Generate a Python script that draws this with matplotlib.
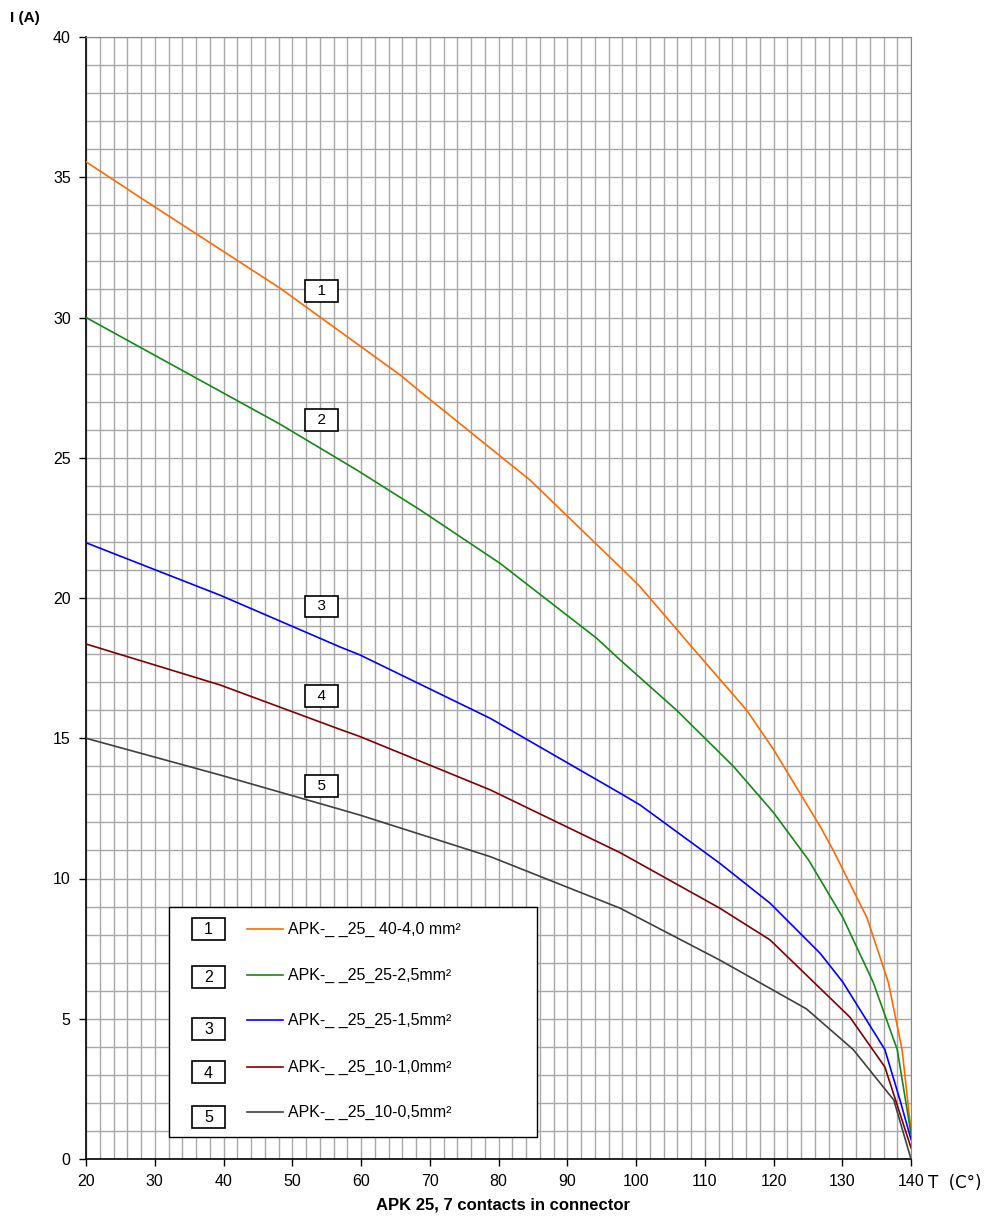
import matplotlib
matplotlib.use("Agg")
import matplotlib.pyplot as plt
from matplotlib.patches import Rectangle
from matplotlib.lines import Line2D
import numpy as np

plt.rcParams['font.family'] = ['Liberation Sans', 'DejaVu Sans']

# values (T in C, I in A)
t1 = [20, 28, 48.2, 65.7, 68.6, 84.6, 97.7, 100.6, 108.1, 116.1, 120, 126.8, 128.7, 133.6, 136.7, 138.7, 140]
i1 = [35.55, 34.26, 31.05, 27.95, 27.36, 24.2, 21.1, 20.4, 18.26, 16.0, 14.6, 11.85, 11.0, 8.6, 6.3, 3.9, 1.0]

t2 = [20, 48.2, 59.4, 68.6, 80.2, 94.3, 97.7, 105.9, 114.2, 120, 125.1, 130.1, 134.5, 138, 140]
i2 = [30.0, 26.2, 24.56, 23.14, 21.24, 18.56, 17.79, 16.0, 13.99, 12.35, 10.66, 8.6, 6.3, 3.9, 0.9]

t3 = [20, 39.5, 56.9, 59.85, 78.8, 97.7, 100.6, 112.2, 119.5, 126.8, 130.1, 136.2, 138.4, 140]
i3 = [21.97, 20.1, 18.26, 17.97, 15.71, 13.04, 12.62, 10.54, 9.12, 7.33, 6.3, 3.9, 2.1, 0.7]

t4 = [20, 39.5, 56.9, 59.85, 78.8, 97.7, 112.2, 119.5, 126.8, 131.1, 136.2, 140]
i4 = [18.36, 16.9, 15.32, 15.06, 13.16, 10.92, 8.94, 7.81, 6.08, 5.06, 3.28, 0.4]

t5 = [20, 39.5, 56.9, 59.85, 78.8, 97.7, 112.2, 124.8, 131.6, 137.5, 140]
i5 = [15.0, 13.69, 12.47, 12.26, 10.78, 8.94, 7.09, 5.35, 3.9, 2.1, 0.0]

names = ["APK-_ _25_ 40-4,0 mm\u00b2", "APK-_ _25_25-2,5mm\u00b2", "APK-_ _25_25-1,5mm\u00b2",
         "APK-_ _25_10-1,0mm\u00b2", "APK-_ _25_10-0,5mm\u00b2"]
colours = ["#ff6a00", "#138a13", "#0000ff", "#800000", "#404040"]
label_pos = [(54.3, 30.94), (54.3, 26.35), (54.3, 19.7), (54.3, 16.5), (54.3, 13.3)]

W, H = 989, 1223
fig = plt.figure(figsize=(W / 100, H / 100), dpi=100)

def px(x, y):
    return x / W, 1 - y / H

l, b = px(86, 1159)
r, t = px(911, 37)
ax = fig.add_axes([l, b, r - l, t - b])

for tt, ii, c in zip([t1, t2, t3, t4, t5], [i1, i2, i3, i4, i5], colours):
    ax.plot(tt, ii, color=c, lw=1.2, zorder=3)

ax.set_xlim(20, 140)
ax.set_ylim(0, 40)
ax.set_xticks(np.arange(20, 141, 10))
ax.set_yticks(np.arange(0, 41, 5))
ax.set_xticks(np.arange(20, 141, 2), minor=True)
ax.set_yticks(np.arange(0, 41, 1), minor=True)
ax.grid(which='both', color='#a8a8a8', lw=1, zorder=0)
ax.tick_params(which='minor', length=0)
ax.tick_params(which='major', direction='out', length=5, width=1, labelsize=11.5, pad=6)

for s in ['top', 'right']:
    ax.spines[s].set_color('#888888')
for s in ['left', 'bottom']:
    ax.spines[s].set_color('black')
    ax.spines[s].set_linewidth(1.2)

# numbered boxes on the curves
for k, (x, y) in enumerate(label_pos):
    ax.text(x, y, "  %d  " % (k + 1), ha='center', va='center', fontsize=11,
            bbox=dict(boxstyle='square,pad=0.25', fc='white', ec='black', lw=1.2), zorder=5)

# legend block
lx0, ly0 = px(169, 1137)
lx1, ly1 = px(537, 907)
fig.patches.append(Rectangle((lx0, ly0), lx1 - lx0, ly1 - ly0, transform=fig.transFigure,
                             fc='white', ec='black', lw=1, zorder=10))
box_y = [929, 977, 1029, 1072, 1117]
line_y = [929, 975, 1020, 1067, 1112]
for k in range(5):
    bx0, by0 = px(192, box_y[k] + 11)
    bx1, by1 = px(225, box_y[k] - 11)
    fig.patches.append(Rectangle((bx0, by0), bx1 - bx0, by1 - by0, transform=fig.transFigure,
                                 fc='white', ec='black', lw=1.2, zorder=11))
    cx, cy = px(208.5, box_y[k] + 1)
    fig.text(cx, cy, str(k + 1), ha='center', va='center', fontsize=11.5, zorder=12)
    xa, ya = px(247, line_y[k])
    xb, _ = px(283, line_y[k])
    fig.lines.append(Line2D([xa, xb], [ya, ya], transform=fig.transFigure,
                            color=colours[k], lw=1.2, zorder=12))
    tx, ty = px(288, line_y[k])
    fig.text(tx, ty, names[k], ha='left', va='center', fontsize=11.5, zorder=12)

x0, y0 = px(10, 18)
fig.text(x0, y0, "I (A)", ha='left', va='center', fontsize=11, fontweight='bold')
x0, y0 = px(928, 1183)
fig.text(x0, y0, "T  (C\u00b0)", ha='left', va='center', fontsize=12, family=['DejaVu Sans'])
x0, y0 = px(503, 1205)
fig.text(x0, y0, "APK 25, 7 contacts in connector", ha='center', va='center',
         fontsize=12, fontweight='bold')

fig.savefig("out.png", dpi=100)
